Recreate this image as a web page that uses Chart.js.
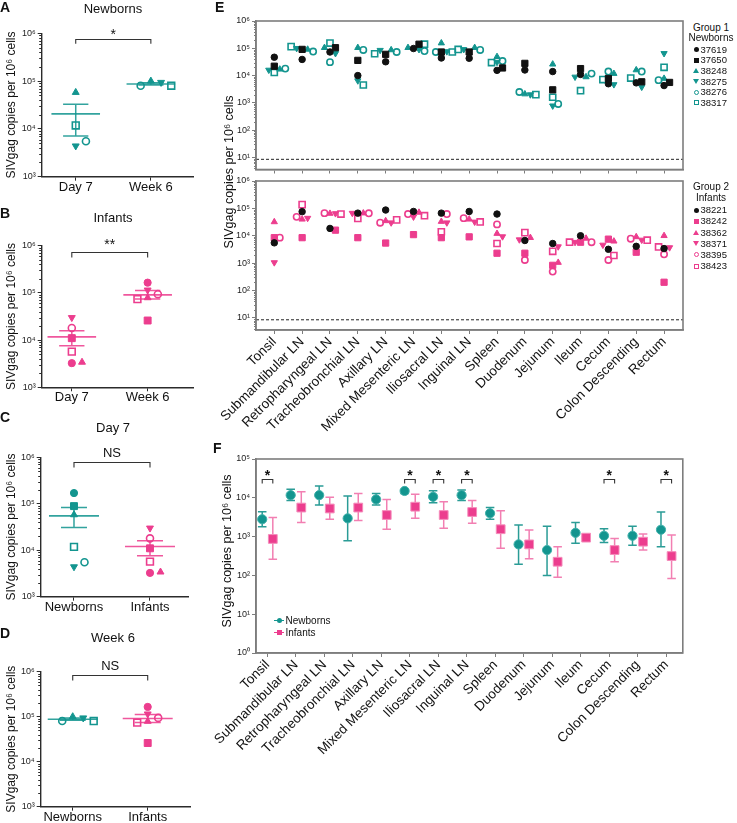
<!DOCTYPE html>
<html><head><meta charset="utf-8">
<script src="https://cdn.jsdelivr.net/npm/chart.js@4.4.1/dist/chart.umd.min.js"></script>
<style>
html,body{margin:0;padding:0;background:#fff;}
body{width:737px;height:823px;position:relative;overflow:hidden;font-family:"Liberation Sans",Arial,sans-serif;color:#111;}
canvas{position:absolute;}
.lab{position:absolute;font-weight:bold;font-size:14px;line-height:14px;}
.ttl{position:absolute;font-size:13px;line-height:13px;transform:translateX(-50%);white-space:nowrap;}
.ytl{position:absolute;line-height:1;white-space:nowrap;transform:translate(-50%,-50%) rotate(-90deg);}
.leg{position:absolute;line-height:1;white-space:nowrap;}
.mk{position:absolute;box-sizing:border-box;}
</style></head><body>
<script>
// ================= DATA =================
const nbAnimals  = ['37619','37650','38248','38275','38276','38317'];
const infAnimals = ['38221','38242','38362','38371','38395','38423'];

// Panels A-D : per animal (order as in the animal lists)
const timeCats  = ['Day 7','Week 6'];
const groupCats = ['Newborns','Infants'];
const nbDay7        = [170000, 89000, 58000, 4400, 5500, 11800];
const nbDay7Followed= [null, null, 58000, 4400, 5500, 11800];
const nbWeek6       = [null, null, 100000, 94000, 80000, 80000];
const infDay7       = [3250, 11000, 3400, 30000, 18000, 5700];
const infWeek6      = [165000, 26000, 79000, 115000, 94000, 74000];
// mean and SEM bounds per column
const meanA = [20600, 87000],  semLoA = [7100, 83000],  semHiA = [32600, 92000];
const meanB = [11700, 91000],  semLoB = [7600, 74000],  semHiB = [15800, 112000];
const meanC = [55000, 12000],  semLoC = [31000, 7600],  semHiC = [83000, 16000];
const meanD = [88000, 91000],  semLoD = [83000, 74000], semHiD = [93000, 112000];
const sigA = '*', sigB = '**', sigC = 'NS', sigD = 'NS';

// Panel E : tissues
const tissues = ['Tonsil','Submandibular LN','Retropharyngeal LN','Tracheobronchial LN','Axillary LN','Mixed Mesenteric LN','Iliosacral LN','Inguinal LN','Spleen','Duodenum','Jejunum','Ileum','Cecum','Colon Descending','Rectum'];
const nb_37619 = [47000, 39000, 73000, 10000, 32000, 98000, 44000, 43000, 15500, 16000, 14000, 11000, 5000, 5400, 4300];
const nb_37650 = [22000, 91000, 105000, 36000, 60000, 141000, 73000, 73000, 19000, 28000, 3000, 18000, 7800, 5900, 5600];
const nb_38248 = [17000, 91000, 105000, 105000, 87000, 105000, 155000, 105000, 49000, 2100, 26000, 8900, 11800, 16000, 7800];
const nb_38275 = [16000, 100000, 65000, 6500, 85000, 91000, 76000, 91000, 31000, 2000, 780, 8900, 4700, 3800, 65000];
const nb_38276 = [18000, 76000, 31000, 87000, 73000, 79000, 73000, 87000, 34000, 2500, 910, 11800, 14000, 14000, 6800];
const nb_38317 = [13000, 115000, 155000, 4500, 63000, 141000, 73000, 91000, 30000, 2000, 1600, 2800, 7100, 8100, 20000];
const inf_38221 = [5500, 76000, 18500, 67000, 87000, 77000, 67000, 77000, 62000, 6700, 5200, 10000, 3200, 4100, 3400];
const inf_38242 = [8500, 8500, 16000, 8500, 5400, 11000, 8500, 9100, 2300, 2300, 830, 5800, 7500, 2500, 200];
const inf_38362 = [32000, 40000, 65000, 67000, 35000, 71000, 33000, 40000, 12000, 8500, 1050, 8000, 6300, 9100, 10000];
const inf_38371 = [1050, 44000, 65000, 67000, 30000, 49000, 30000, 32000, 9300, 7200, 4000, 5800, 4600, 7000, 3700];
const inf_38395 = [8500, 49000, 67000, 66000, 30000, 62000, 62000, 44000, 26000, 1300, 490, 5800, 1300, 7800, 2100];
const inf_38423 = [null, 137000, 62000, 43000, 38000, 54000, 14000, 32000, 5200, 13000, 2700, 5800, 1900, 6900, 3900];
const lodValue = 8.5;

// Panel F : group summaries (centre, lower and upper error)
const fNbMean  = [2800, 11700, 11700, 2950, 9100, 15000, 10600, 11700, 4000, 630, 450, 1250, 1050, 1050, 1500];
const fNbLo    = [1800, 8500, 6500, 780, 6500, 13000, 7500, 8500, 2800, 195, 100, 670, 700, 600, 550];
const fNbHi    = [4400, 16500, 20000, 11200, 13000, 16000, 15200, 16000, 5600, 2000, 1850, 2300, 1600, 1850, 4300];
const fInfMean = [870, 5600, 5300, 5600, 3600, 5900, 3600, 4300, 1550, 630, 225, 940, 450, 740, 315];
const fInfLo   = [260, 2300, 2800, 2600, 1550, 2950, 1630, 2200, 500, 270, 90, 900, 225, 450, 83];
const fInfHi   = [3100, 14400, 10300, 13000, 9100, 12300, 7900, 8500, 4650, 1480, 550, 980, 900, 1170, 1100];
const fSigIdx  = [0, 5, 6, 7, 12, 14];

// ================= STYLE =================
const FONT = '"Liberation Sans", Arial, sans-serif';
Chart.defaults.font.family = FONT;
const TEAL = '#13958f', PINK = '#ec3d8e', BLACK = '#111111';
const AX1 = '#2b2b2b', AX2 = '#7d7d7d';
const MK = [
  {s:'circle',   fill:true,  r:3.6},
  {s:'rect',     fill:true,  r:4.9},
  {s:'triangle', fill:true,  r:4.0},
  {s:'triangle', fill:true,  r:4.0, rot:180},
  {s:'circle',   fill:false, r:3.5},
  {s:'rect',     fill:false, r:4.8},
];
const SUP = {'0':'⁰','1':'¹','2':'²','3':'³','4':'⁴','5':'⁵','6':'⁶','7':'⁷'};
const supLabel = v => '10' + SUP[String(Math.round(Math.log10(v)))];

// ================= PLUGINS =================
const framePlugin = {id:'frame', afterDraw(chart, a, o){
  if (!o || !o.color) return;
  const {ctx, chartArea:ca} = chart; ctx.save();
  ctx.strokeStyle = o.color; ctx.lineWidth = o.width;
  ctx.strokeRect(ca.left, ca.top, ca.right-ca.left, ca.bottom-ca.top); ctx.restore();
}};
const minorPlugin = {id:'minor', afterDraw(chart, a, o){
  if (!o || !o.len) return;
  const y = chart.scales.y, ctx = chart.ctx; ctx.save();
  ctx.strokeStyle = o.color; ctx.lineWidth = 1;
  const e0 = Math.floor(Math.log10(y.min)), e1 = Math.ceil(Math.log10(y.max));
  for (let e = e0; e < e1; e++) for (let m = 2; m <= 9; m++) {
    const v = m * Math.pow(10, e); if (v < y.min || v > y.max) continue;
    const p = Math.round(y.getPixelForValue(v)) + 0.5;
    ctx.beginPath(); ctx.moveTo(y.right - o.len, p); ctx.lineTo(y.right, p); ctx.stroke();
  }
  ctx.restore();
}};
const bracketPlugin = {id:'brackets', afterDatasetsDraw(chart, a, o){
  if (!o || !o.items) return;
  const {ctx, chartArea:ca, scales:{x}} = chart; ctx.save();
  ctx.strokeStyle = '#333'; ctx.lineWidth = 1.1; ctx.fillStyle = '#111';
  ctx.font = o.font; ctx.textAlign = 'center'; ctx.textBaseline = 'alphabetic';
  for (const it of o.items) {
    const x0 = x.getPixelForValue(it.x0), x1 = x.getPixelForValue(it.x1), y = Math.round(ca.top + o.dy) + 0.5;
    ctx.beginPath(); ctx.moveTo(x0, y + o.leg); ctx.lineTo(x0, y); ctx.lineTo(x1, y); ctx.lineTo(x1, y + o.leg); ctx.stroke();
    ctx.fillText(it.text, (x0 + x1) / 2, y + o.textDy);
  }
  ctx.restore();
}};
Chart.register(framePlugin, minorPlugin, bracketPlugin);

// ================= HELPERS =================
function mkCanvas(left, top, w, h){
  const c = document.createElement('canvas'); c.width = w; c.height = h;
  Object.assign(c.style, {left:left+'px', top:top+'px', width:w+'px', height:h+'px'});
  document.body.appendChild(c); return c;
}
function addDiv(cls, html, css){
  const d = document.createElement('div'); d.className = cls; d.innerHTML = html;
  Object.assign(d.style, css); document.body.appendChild(d); return d;
}
function logY(min, max, width, fs, axc, bw){
  const ticks = [];
  for (let e = Math.ceil(Math.log10(min) - 1e-9); e <= Math.log10(max) + 1e-9; e++) ticks.push(Math.pow(10, e));
  return {type:'logarithmic', min, max,
    afterBuildTicks: ax => { ax.ticks = ticks.map(v => ({value:v, major:true})); },
    afterFit: ax => { ax.width = width; },
    ticks:{autoSkip:false, font:{size:fs, lineHeight:1}, color:'#222', padding:2, callback: v => supLabel(v)},
    grid:{drawOnChartArea:false, drawTicks:true, tickLength:4, color:axc, tickColor:axc, tickWidth:1},
    border:{display:true, color:axc, width:bw}};
}
function catX(min, max, cats, height, fs, rot, show, axc, bw, pad){
  return {type:'linear', min, max,
    afterBuildTicks: ax => { ax.ticks = cats.map((c, i) => ({value:i})); },
    afterFit: ax => { ax.height = height; },
    ticks:{autoSkip:false, minRotation:rot, maxRotation:rot, font:{size:fs, lineHeight:1}, color:'#111', padding:pad,
      callback: v => show ? cats[v] : ''},
    grid:{drawOnChartArea:false, drawTicks:true, tickLength:4, color:axc, tickColor:axc, tickWidth:1},
    border:{display:true, color:axc, width:bw}};
}
function ptDs(points, color, mk, scale){
  return {type:'scatter', data:points, order:0, pointStyle:mk.s, pointRotation:mk.rot || 0,
    pointRadius:mk.r * scale, pointHoverRadius:mk.r * scale,
    backgroundColor: mk.fill ? color : 'rgba(0,0,0,0)', borderColor:color, borderWidth: mk.fill ? 1 : 1.6, clip:false};
}
function lineDs(points, color, w, dash){
  return {type:'scatter', data:points, order:1, showLine:true, pointRadius:0, pointHoverRadius:0,
    borderColor:color, borderWidth:w, borderDash:dash || [], spanGaps:false, fill:false, clip:false};
}
// simple beeswarm so that coincident markers are set side by side
function dodge(rows, nCat, pxUnit, pxDec, step, tx, ty){
  const out = rows.map(r => r.map(() => 0));
  for (let c = 0; c < nCat; c++) {
    const placed = [];
    rows.forEach((r, a) => {
      const v = r[c]; if (v == null) return;
      const y = Math.log10(v) * pxDec;
      for (const k of [0, 1, -1, 2, -2, 3, -3]) {
        const xo = k * step;
        if (placed.every(p => Math.abs(p.x - xo) >= tx || Math.abs(p.y - y) >= ty)) {
          placed.push({x:xo, y}); out[a][c] = xo / pxUnit; break;
        }
      }
    });
  }
  return out;
}
function baseOpts(padTop, padRight, scales, plugins){
  return {responsive:false, animation:false, devicePixelRatio:1, events:[],
    layout:{padding:{top:padTop, right:padRight, left:0, bottom:0}},
    plugins:Object.assign({legend:{display:false}, tooltip:{enabled:false}, title:{display:false}}, plugins),
    scales};
}

// ================= PANELS A-D =================
const dotPanels = [
  {lab:'A', labTop:0, title:'Newborns', titleTop:2, canvas:[0,0,200,205], plot:[33.3,176.7,41.7,198], xr:[-0.453,1.569], pxUnit:77.3, pxDec:47.8,
   cats:timeCats, cols:[{vals:nbDay7Followed, color:TEAL},{vals:nbWeek6, color:TEAL}], mean:meanA, lo:semLoA, hi:semHiA, sig:sigA, br:{dy:5.7, leg:4.3, textDy:-1, font:'14px '+FONT}},
  {lab:'B', labTop:206, title:'Infants', titleTop:211, canvas:[0,200,200,212], plot:[245.7,387.3,41.7,198], xr:[-0.397,1.606], pxUnit:78, pxDec:47.2,
   cats:timeCats, cols:[{vals:infDay7, color:PINK},{vals:infWeek6, color:PINK}], mean:meanB, lo:semLoB, hi:semHiB, sig:sigB, br:{dy:6, leg:5, textDy:-4, font:'14px '+FONT}},
  {lab:'C', labTop:410, title:'Day 7', titleTop:421, canvas:[0,405,200,215], plot:[457.3,596.7,40.7,188], xr:[-0.438,1.5], pxUnit:76, pxDec:46.5,
   cats:groupCats, cols:[{vals:nbDay7, color:TEAL},{vals:infDay7, color:PINK}], mean:meanC, lo:semLoC, hi:semHiC, sig:sigC, br:{dy:4.4, leg:5, textDy:-5.4, font:'13px '+FONT}},
  {lab:'D', labTop:626, title:'Week 6', titleTop:630.5, canvas:[0,615,200,208], plot:[671.7,806.7,40.7,190], xr:[-0.427,1.564], pxUnit:75, pxDec:45,
   cats:groupCats, cols:[{vals:nbWeek6, color:TEAL},{vals:infWeek6, color:PINK}], mean:meanD, lo:semLoD, hi:semHiD, sig:sigD, br:{dy:3.3, leg:5, textDy:-5.4, font:'13px '+FONT}},
];
dotPanels.forEach(P => {
  const [cl, ct, cw, chh] = P.canvas, [pt, pb, pl, pr] = P.plot;
  const cv = mkCanvas(cl, ct, cw, chh);
  const rows = [0,1,2,3,4,5].map(a => P.cols.map(col => col.vals[a]));
  const off = dodge(rows, P.cols.length, P.pxUnit, P.pxDec, 10.5, 9, 6.5);
  const ds = [];
  P.cols.forEach((col, c) => {
    col.vals.forEach((v, a) => { if (v != null) ds.push(ptDs([{x:c + off[a][c], y:v}], col.color, MK[a], 1)); });
    const hw = 25 / P.pxUnit, cw2 = 13 / P.pxUnit;
    const lc = col.color + 'dd';
    ds.push(lineDs([{x:c - hw, y:P.mean[c]}, {x:c + hw, y:P.mean[c]}], lc, 1.6));
    ds.push(lineDs([{x:c, y:P.lo[c]}, {x:c, y:P.hi[c]}, {x:c, y:null},
                    {x:c - cw2, y:P.hi[c]}, {x:c + cw2, y:P.hi[c]}, {x:c, y:null},
                    {x:c - cw2, y:P.lo[c]}, {x:c + cw2, y:P.lo[c]}], lc, 1.5));
  });
  new Chart(cv, {type:'scatter', data:{datasets:ds},
    options: baseOpts(pt - ct, cw - pr,
      {x: catX(P.xr[0], P.xr[1], P.cats, chh - (pb - ct), 13, 0, true, AX1, 1.4, 0),
       y: Object.assign(logY(1000, 1000000, pl - cl, 9, AX1, 1.4), {title:{display:true, text:'SIVgag copies per 10⁶ cells', font:{size:12}, color:'#111', padding:{top:4, bottom:0}}})},
      {minor:{len:2.5, color:AX1}, brackets:Object.assign({items:[{x0:0, x1:1, text:P.sig}]}, P.br)})});
  addDiv('lab', P.lab, {left:'0px', top:P.labTop + 'px'});
  addDiv('ttl', P.title, {left:'113px', top:P.titleTop + 'px'});
});

// ================= PANEL E =================
const eRowsNB  = [nb_37619, nb_37650, nb_38248, nb_38275, nb_38276, nb_38317];
const eRowsInf = [inf_38221, inf_38242, inf_38362, inf_38371, inf_38395, inf_38423];
const eColsNB  = [BLACK, BLACK, TEAL, TEAL, TEAL, TEAL];
const eColsInf = [BLACK, PINK, PINK, PINK, PINK, PINK];
const EX = [-0.657, 14.68];
function eChart(top, h, plotTop, plotBottom, rows, cols, showLabels){
  const cv = mkCanvas(200, top, 490, h);
  const off = dodge(rows, tissues.length, 27.84, 27.3, 5.5, 5, 5);
  const ds = rows.map((r, a) => ptDs(r.map((v, i) => v == null ? null : {x:i + off[a][i], y:v}).filter(p => p), cols[a], MK[a], 0.9));
  ds.push(lineDs([{x:EX[0], y:lodValue}, {x:EX[1], y:lodValue}], '#222', 1, [3, 2]));
  new Chart(cv, {type:'scatter', data:{datasets:ds},
    options: baseOpts(plotTop - top, 490 - 483,
      {x: catX(EX[0], EX[1], tissues, h - (plotBottom - top), 13.5, 45, showLabels, AX2, 1.6, 1),
       y: logY(3.6, 1000000, 56, 9, AX2, 1.6)},
      {frame:{color:AX2, width:1.6}, minor:{len:2, color:AX2}})});
}
eChart(0, 178, 21, 169.5, eRowsNB, eColsNB, false);
eChart(172, 270, 181, 330, eRowsInf, eColsInf, true);
addDiv('lab', 'E', {left:'215px', top:'0px'});
addDiv('ytl', 'SIVgag copies per 10⁶ cells', {left:'229px', top:'172px', fontSize:'12.5px'});

function markerHtml(mk, color, cx, cy){
  const s = 5;
  let css = {left:(cx - s/2) + 'px', top:(cy - s/2) + 'px', width:s + 'px', height:s + 'px'};
  if (mk.s === 'triangle') {
    css = {left:(cx - 3) + 'px', top:(cy - 2.5) + 'px', width:'0px', height:'0px',
      borderLeft:'3px solid transparent', borderRight:'3px solid transparent'};
    if (mk.rot) css.borderTop = '5px solid ' + color; else css.borderBottom = '5px solid ' + color;
  } else {
    if (mk.fill) css.background = color; else css.border = '1.2px solid ' + color;
    if (mk.s === 'circle') css.borderRadius = '50%';
  }
  addDiv('mk', '', css);
}
function eLegend(l1, l2, y1, y2, yStart, dy, names, cols){
  addDiv('leg', l1, {left:'711px', top:(y1 - 5) + 'px', fontSize:'10px', transform:'translateX(-50%)'});
  addDiv('leg', l2, {left:'711px', top:(y2 - 5) + 'px', fontSize:'10px', transform:'translateX(-50%)'});
  names.forEach((n, k) => {
    const y = yStart + dy * k;
    markerHtml(MK[k], cols[k], 696, y);
    addDiv('leg', n, {left:'700.5px', top:(y - 4.8) + 'px', fontSize:'9.5px'});
  });
}
eLegend('Group 1', 'Newborns', 28.3, 37.7, 49.3, 10.7, nbAnimals, eColsNB);
eLegend('Group 2', 'Infants', 187.3, 198.3, 210, 11.2, infAnimals, eColsInf);

// ================= PANEL F =================
(function(){
  const top = 440, h = 383, plotTop = 459, plotBottom = 653;
  const FX = [-0.404, 14.58], d = 0.186, cap = 0.15;
  const cv = mkCanvas(200, top, 490, h);
  const bars = (mean, lo, hi, sh) => {
    const pts = [];
    mean.forEach((m, i) => {
      const x = i + sh;
      pts.push({x, y:lo[i]}, {x, y:hi[i]}, {x, y:null},
               {x:x - cap, y:hi[i]}, {x:x + cap, y:hi[i]}, {x, y:null},
               {x:x - cap, y:lo[i]}, {x:x + cap, y:lo[i]}, {x, y:null});
    });
    return pts;
  };
  const ds = [
    Object.assign(ptDs(fNbMean.map((v, i) => ({x:i - d, y:v})), TEAL, {s:'circle', fill:true, r:4.6}, 1), {borderColor:'#3fb0aa', borderWidth:1}),
    Object.assign(ptDs(fInfMean.map((v, i) => ({x:i + d, y:v})), PINK, {s:'rect', fill:true, r:6.2}, 1), {borderColor:'#f58cbb', borderWidth:1}),
    lineDs(bars(fNbMean, fNbLo, fNbHi, -d), '#2a9c96', 1.5),
    lineDs(bars(fInfMean, fInfLo, fInfHi, d), '#f27fb2', 1.5),
  ];
  new Chart(cv, {type:'scatter', data:{datasets:ds},
    options: baseOpts(plotTop - top, 490 - 483,
      {x: catX(FX[0], FX[1], tissues, h - (plotBottom - top), 13.5, 45, true, AX2, 1.6, 1),
       y: logY(1, 100000, 56, 9, AX2, 1.6)},
      {frame:{color:AX2, width:1.6},
       brackets:{items:fSigIdx.map(i => ({x0:i - d, x1:i + d, text:'*'})), dy:20.3, leg:4, textDy:0, font:'bold 14px ' + FONT}})});
  addDiv('lab', 'F', {left:'213px', top:'441px'});
  addDiv('ytl', 'SIVgag copies per 10⁶ cells', {left:'227px', top:'551px', fontSize:'12.5px'});
  // legend
  [['Newborns', TEAL, 'circle', 620.7], ['Infants', PINK, 'rect', 632.7]].forEach(([t, c, s, y]) => {
    addDiv('mk', '', {left:'274px', top:(y - 0.6) + 'px', width:'10px', height:'1.2px', background:c});
    markerHtml({s, fill:true}, c, 279, y);
    addDiv('leg', t, {left:'285.5px', top:(y - 5.2) + 'px', fontSize:'10px'});
  });
})();
</script>
</body></html>
